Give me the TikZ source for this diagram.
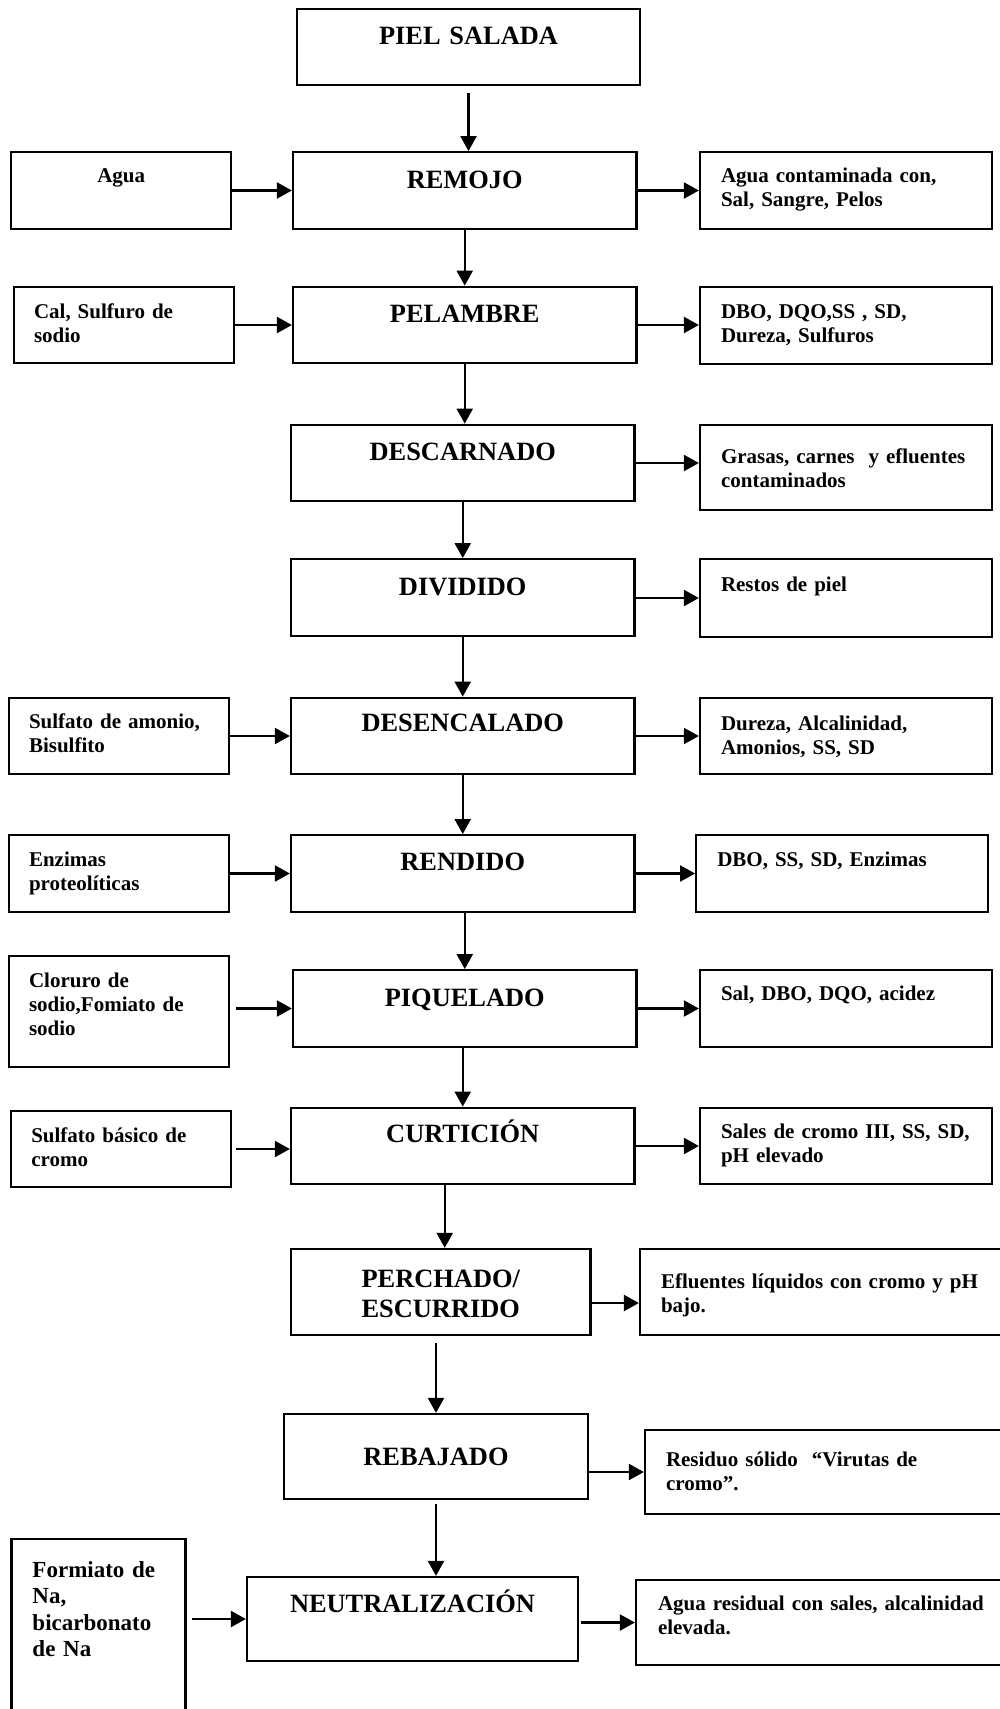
\documentclass[tikz,border=0pt]{standalone}
\usepackage{fontspec}
\setmainfont{Liberation Serif}
\usetikzlibrary{arrows.meta}

\begin{document}
\begin{tikzpicture}[
    x=0.5pt, y=-0.5pt,
    box/.style={draw, line width=1.15pt, inner sep=0pt, align=center, text width=171.75pt,
        text height=18pt, text depth=20.25pt, font=\fontsize{13.2}{15}\selectfont\bfseries},
    input/.style={draw, line width=1.15pt, inner xsep=10pt, inner ysep=0pt, align=left, text width=90pt,
        text height=15.5pt, text depth=23pt, font=\fontsize{10.5}{12.2}\selectfont\bfseries},
    waste/.style={input, inner xsep=10.5pt, text width=125pt},
    arrow/.style={-{Triangle[length=7.5pt, width=8pt]}, line width=1.15pt}
]
\useasboundingbox (0,0) rectangle (1000,1709);
\clip (0,0) rectangle (1000,1709);

% proceso
\node[box] (piel) at (468.5,47) {PIEL SALADA};
\node[box] (remojo) at (464.75,190.5) {REMOJO};
\node[box] (pelambre) at (464.75,325) {PELAMBRE};
\node[box] (descarnado) at (462.75,463) {DESCARNADO};
\node[box] (dividido) at (462.75,597.5) {DIVIDIDO};
\node[box, text height=17pt, text depth=21.25pt] (desencalado) at (462.75,736) {DESENCALADO};
\node[box, text height=17.5pt, text depth=20.75pt] (rendido) at (462.75,873.5) {RENDIDO};
\node[box] (piquelado) at (464.75,1008.5) {PIQUELADO};
\node[box, text height=17.5pt, text depth=20.75pt] (curticion) at (462.75,1146) {CURTICIÓN};
\node[box, text width=149.75pt, text height=19pt, text depth=24pt] (perchado) at (440.75,1292) {PERCHADO/\\ESCURRIDO};
\node[box, text width=152pt, text height=25.5pt, text depth=17pt] (rebajado) at (436,1456.5) {REBAJADO};
\node[box, text width=165.5pt, text height=17.5pt, text depth=24.5pt] (neutral) at (412.5,1619) {NEUTRALIZACIÓN};

% insumos
\node[input, align=center, text height=15pt, text depth=23.5pt] (agua) at (121.25,190.5) {Agua};
\node[input, text depth=22.5pt] (cal) at (124,325) {Cal, Sulfuro de\\sodio};
\node[input, text height=15pt] (sulfamonio) at (119,736) {Sulfato de amonio,\\Bisulfito};
\node[input] (enzimas) at (119,873.5) {Enzimas\\proteolíticas};
\node[input, text depth=40pt] (cloruro) at (119,1011.5) {Cloruro de\\sodio,Fomiato de\\sodio};
\node[input, text depth=22.5pt] (sulfbasico) at (121.25,1149) {Sulfato básico de\\cromo};
\node[input, inner xsep=10.5pt, text width=66pt, text height=19pt, text depth=76.5pt,
    font=\fontsize{11.5}{13.3}\selectfont\bfseries] (formiato) at (98.5,1634.5) {Formiato de\\Na,\\bicarbonato\\de Na};

% efluentes
\node[waste, text height=15pt, text depth=23.5pt] (aguacont) at (846,190.5) {Agua contaminada con,\\Sal, Sangre, Pelos};
\node[waste] (dbo1) at (846,325.5) {DBO, DQO,SS , SD,\\Dureza, Sulfuros};
\node[waste, text height=19pt, text depth=23.5pt] (grasas) at (846,467.5) {Grasas, carnes~ y efluentes\\contaminados};
\node[waste, text height=16pt] (restos) at (846,598) {Restos de piel};
\node[waste, text height=16pt, text depth=22pt] (dureza) at (846,736) {Dureza, Alcalinidad,\\Amonios, SS, SD};
\node[waste] (dbo2) at (842.25,873.5) {DBO, SS, SD, Enzimas};
\node[waste, text height=15pt, text depth=23.5pt] (sal) at (846,1008.5) {Sal, DBO, DQO, acidez};
\node[waste, text height=15pt] (sales) at (846,1146) {Sales de cromo III, SS, SD,\\pH elevado};
\node[waste, text width=164pt, text height=19.5pt, text depth=23.5pt] (efluentes) at (825,1292) {Efluentes líquidos con cromo y pH\\bajo.};
\node[waste, text width=161.5pt, text height=18pt, text depth=24pt] (residuo) at (827.5,1472) {Residuo sólido~ “Virutas de\\cromo”.};
\node[waste, inner xsep=11pt, text width=165pt, text height=15pt, text depth=27.5pt] (aguares) at (823,1622.5) {Agua residual con sales, alcalinidad\\elevada.};

% flujo principal
\draw[arrow, shorten <=3.5pt] (piel.south) -- (piel.south |- remojo.north);
\draw[arrow] (remojo) -- (pelambre);
\draw[arrow] (pelambre.south) -- (pelambre.south |- descarnado.north);
\draw[arrow] (descarnado) -- (dividido);
\draw[arrow] (dividido) -- (desencalado);
\draw[arrow] (desencalado) -- (rendido);
\draw[arrow] (piquelado.north |- rendido.south) -- (piquelado.north);
\draw[arrow] (curticion.north |- piquelado.south) -- (curticion.north);
\draw[arrow] ([xshift=2pt]perchado.north |- curticion.south) -- ([xshift=2pt]perchado.north);
\draw[arrow, shorten <=3.5pt] (rebajado.north |- perchado.south) -- (rebajado.north);
\draw[arrow, shorten <=2pt] (rebajado.south) -- (rebajado.south |- neutral.north);

% entradas
\draw[arrow] (agua) -- (remojo);
\draw[arrow] (cal) -- (pelambre);
\draw[arrow] (sulfamonio) -- (desencalado);
\draw[arrow] (enzimas) -- (rendido);
\draw[arrow, shorten <=3pt] (cloruro.east |- piquelado.west) -- (piquelado.west);
\draw[arrow, shorten <=2pt] (sulfbasico.east) -- (sulfbasico.east -| curticion.west);
\draw[arrow, shorten <=2.5pt] (formiato.east |- neutral.west) -- (neutral.west);

% salidas
\draw[arrow] (remojo) -- (aguacont);
\draw[arrow] (pelambre.east) -- (pelambre.east -| dbo1.west);
\draw[arrow] (descarnado.east) -- (descarnado.east -| grasas.west);
\draw[arrow] (restos.west -| dividido.east) -- (restos.west);
\draw[arrow] (desencalado) -- (dureza);
\draw[arrow] (rendido) -- (dbo2);
\draw[arrow] (piquelado) -- (sal);
\draw[arrow] (curticion) -- (sales);
\draw[arrow] ([yshift=-5.5pt]perchado.east) -- ([yshift=-5.5pt]efluentes.west);
\draw[arrow] (rebajado.east |- residuo.west) -- (residuo.west);
\draw[arrow, shorten <=1pt] (neutral.east |- aguares.west) -- (aguares.west);
\end{tikzpicture}
\end{document}
